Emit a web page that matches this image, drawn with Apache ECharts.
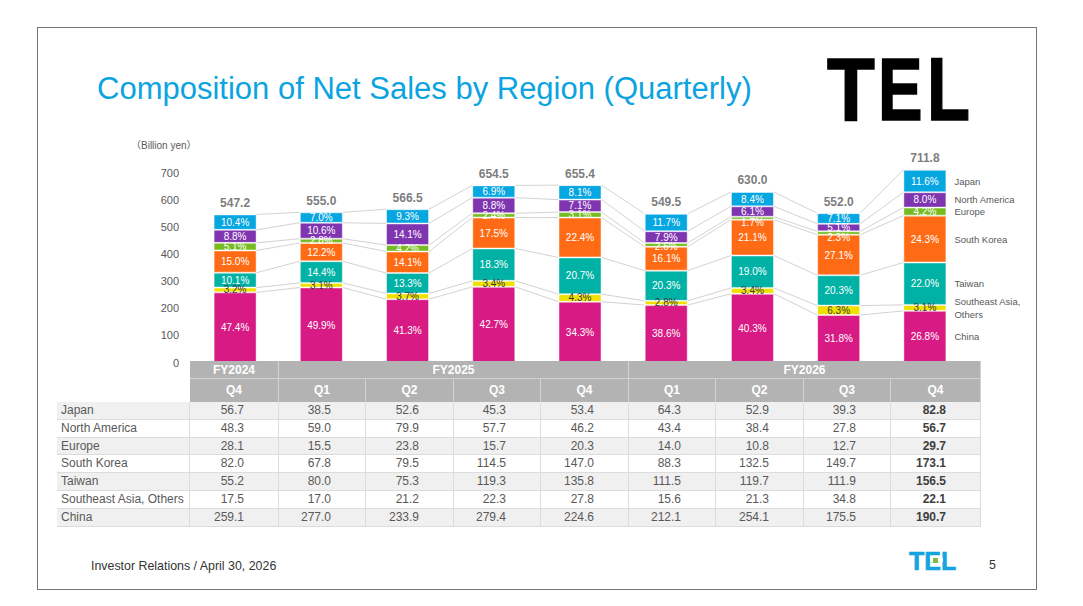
<!DOCTYPE html>
<html>
<head>
<meta charset="utf-8">
<title>Composition of Net Sales by Region (Quarterly)</title>
<script src="https://cdn.jsdelivr.net/npm/echarts@6/dist/echarts.min.js"></script>
<style>
    html, body { margin: 0; padding: 0; background: #fff; }
    #slide { position: relative; width: 1083px; height: 606px; overflow: hidden; font-family: "Liberation Sans", Arial, sans-serif; }
    #chart { position: absolute; left: 0; top: 0; width: 1083px; height: 606px; }
    #frame { position: absolute; left: 37px; top: 27px; width: 998px; height: 561px; border: 1px solid #767676; }
    .abs { position: absolute; white-space: nowrap; }
    #title { left: 97px; top: 73px; font-size: 31px; line-height: 31px; color: #0ca4e0; }
    .logoChar { position: absolute; top: 45px; font-size: 89px; line-height: 89px; font-weight: bold; color: #000; transform-origin: 0 0; -webkit-text-stroke: 1.6px #000; }
    #logoSmall { left: 909px; top: 549px; font-size: 25px; line-height: 25px; font-weight: bold; color: #14a5df; -webkit-text-stroke: 0.6px #14a5df; }
    #footer { left: 91px; top: 560px; font-size: 12.4px; line-height: 12.4px; color: #333; }
    #page { left: 989px; top: 559px; font-size: 12.4px; line-height: 12.4px; color: #333; }
    #tbl .cell { position: absolute; box-sizing: border-box; overflow: hidden; white-space: nowrap; }
</style>
</head>
<body>
<div id="slide">
    <div id="frame"></div>
    <div id="chart"></div>
    <div id="title" class="abs">Composition of Net Sales by Region (Quarterly)</div>
    <div id="logo" class="abs" style="left:0;top:0;">
        <span class="logoChar" style="left:827px;transform:scaleX(0.88);">T</span>
        <span class="logoChar" style="left:878px;transform:scaleX(0.75);">E</span>
        <span class="logoChar" style="left:927px;transform:scaleX(0.79);">L</span>
    </div>
    <div id="logoSmall" class="abs">TEL</div>
    <div id="logoCover" class="abs" style="left:930px;top:558px;width:13px;height:4px;background:#fff;"></div>
    <div id="logoDot" class="abs" style="left:933px;top:558px;width:5px;height:5px;background:#7ac143;"></div>
    <div id="footer" class="abs">Investor Relations / April 30, 2026</div>
    <div id="page" class="abs">5</div>
    <div id="tbl"></div>
</div>
<script>
// 四半期
var categories = ['FY2024 Q4', 'FY2025 Q1', 'FY2025 Q2', 'FY2025 Q3', 'FY2025 Q4', 'FY2026 Q1', 'FY2026 Q2', 'FY2026 Q3', 'FY2026 Q4'];
var fiscalYears = ['FY2024', 'FY2025', 'FY2026'];
var fiscalSpan = [1, 4, 4];
var quarters = ['Q4', 'Q1', 'Q2', 'Q3', 'Q4', 'Q1', 'Q2', 'Q3', 'Q4'];
var totals = [547.2, 555.0, 566.5, 654.5, 655.4, 549.5, 630.0, 552.0, 711.8];
var yTicks = [0, 100, 200, 300, 400, 500, 600, 700];

// 売上高 (Billion yen)
var japan = [56.7, 38.5, 52.6, 45.3, 53.4, 64.3, 52.9, 39.3, 82.8];
var northAmerica = [48.3, 59.0, 79.9, 57.7, 46.2, 43.4, 38.4, 27.8, 56.7];
var europe = [28.1, 15.5, 23.8, 15.7, 20.3, 14.0, 10.8, 12.7, 29.7];
var southKorea = [82.0, 67.8, 79.5, 114.5, 147.0, 88.3, 132.5, 149.7, 173.1];
var taiwan = [55.2, 80.0, 75.3, 119.3, 135.8, 111.5, 119.7, 111.9, 156.5];
var seAsia = [17.5, 17.0, 21.2, 22.3, 27.8, 15.6, 21.3, 34.8, 22.1];
var china = [259.1, 277.0, 233.9, 279.4, 224.6, 212.1, 254.1, 175.5, 190.7];

// 構成比 (%)
var pctJapan = [10.4, 7.0, 9.3, 6.9, 8.1, 11.7, 8.4, 7.1, 11.6];
var pctNorthAmerica = [8.8, 10.6, 14.1, 8.8, 7.1, 7.9, 6.1, 5.1, 8.0];
var pctEurope = [5.1, 2.8, 4.2, 2.4, 3.1, 2.6, 1.7, 2.3, 4.2];
var pctSouthKorea = [15.0, 12.2, 14.1, 17.5, 22.4, 16.1, 21.1, 27.1, 24.3];
var pctTaiwan = [10.1, 14.4, 13.3, 18.3, 20.7, 20.3, 19.0, 20.3, 22.0];
var pctSeAsia = [3.2, 3.1, 3.7, 3.4, 4.3, 2.8, 3.4, 6.3, 3.1];
var pctChina = [47.4, 49.9, 41.3, 42.7, 34.3, 38.6, 40.3, 31.8, 26.8];

var barWidth = 43;
var font = '"Liberation Sans", Arial, sans-serif';
// 細い欧州区分のラベルを少し下げる (px)
var europeNudge = [0, 0, 0, 0, 0, 2, 4, 4, 0];

// 積み上げ順 (下から)
var stackOrder = [
    { name: 'China', chartName: 'China', values: china, pct: pctChina, color: '#d81b84', text: '#fff' },
    { name: 'Southeast Asia, Others', chartName: 'Southeast Asia,\nOthers', values: seAsia, pct: pctSeAsia, color: '#efe000', text: '#3a3a3a' },
    { name: 'Taiwan', chartName: 'Taiwan', values: taiwan, pct: pctTaiwan, color: '#00b1a5', text: '#fff' },
    { name: 'South Korea', chartName: 'South Korea', values: southKorea, pct: pctSouthKorea, color: '#ff6b15', text: '#fff' },
    { name: 'Europe', chartName: 'Europe', values: europe, pct: pctEurope, color: '#76bc21', text: '#fff', nudge: europeNudge },
    { name: 'North America', chartName: 'North America', values: northAmerica, pct: pctNorthAmerica, color: '#7f35b0', text: '#fff' },
    { name: 'Japan', chartName: 'Japan', values: japan, pct: pctJapan, color: '#06a6e1', text: '#fff' }
];
// 表の並び (上から)
var tableOrder = stackOrder.slice().reverse();

/** 累積値 */
function buildStacks() {
    var stacks = [];
    var run = categories.map(function () { return 0; });
    for (var k = 0; k < stackOrder.length; k++) {
        run = run.map(function (v, i) { return v + stackOrder[k].values[i]; });
        stacks.push(run.slice());
    }
    return stacks;
}
var stacks = buildStacks();

/** 棒の間の連結線 */
function renderLinks(params, api) {
    var i = api.value(0);
    var half = barWidth / 2;
    var xa = api.coord([i, 0])[0] + half;
    var xb = api.coord([i + 1, 0])[0] - half;
    var lines = [];
    for (var k = 0; k < stacks.length; k++) {
        lines.push({
            type: 'line',
            shape: { x1: xa, y1: api.coord([i, stacks[k][i]])[1], x2: xb, y2: api.coord([i + 1, stacks[k][i + 1]])[1] },
            style: { stroke: '#c6c6c6', lineWidth: 0.8 }
        });
    }
    return { type: 'group', children: lines };
}

/** 右端の地域名 */
function renderNames(params, api) {
    var i = api.value(0);
    var x = api.coord([i, 0])[0] + barWidth / 2 + 8;
    var texts = [];
    for (var k = 0; k < stackOrder.length; k++) {
        var lo = k === 0 ? 0 : stacks[k - 1][i];
        var mid = (lo + stacks[k][i]) / 2;
        texts.push({
            type: 'text',
            x: x,
            y: api.coord([i, mid])[1],
            style: { text: stackOrder[k].chartName, fill: '#595959', fontSize: 9.5, fontFamily: font, align: 'left', verticalAlign: 'middle', lineHeight: 13 }
        });
    }
    return { type: 'group', children: texts };
}

function buildSeries() {
    var series = [];
    stackOrder.forEach(function (r) {
        series.push({
            name: r.name,
            type: 'bar',
            stack: 'sales',
            barWidth: barWidth,
            clip: false,
            data: r.values.map(function (v, i) {
                var item = { value: v };
                if (r.nudge && r.nudge[i]) item.label = { offset: [0, r.nudge[i]] };
                return item;
            }),
            itemStyle: { color: r.color, borderColor: 'rgba(255,255,255,0.45)', borderWidth: 1 },
            label: {
                show: true,
                position: 'inside',
                color: r.text,
                fontSize: 10,
                fontFamily: font,
                formatter: function (p) { return r.pct[p.dataIndex].toFixed(1) + '%'; }
            },
            z: 3
        });
    });
    series.push({
        name: 'links',
        type: 'custom',
        renderItem: renderLinks,
        data: categories.slice(0, -1).map(function (c, i) { return [i, 0]; }),
        encode: { x: 0, y: 1 },
        clip: false,
        silent: true,
        z: 2
    });
    series.push({
        name: 'names',
        type: 'custom',
        renderItem: renderNames,
        data: [[categories.length - 1, 0]],
        encode: { x: 0, y: 1 },
        clip: false,
        silent: true,
        z: 4
    });
    series.push({
        name: 'total',
        type: 'scatter',
        data: totals,
        symbolSize: 1,
        itemStyle: { color: 'rgba(0,0,0,0)' },
        clip: false,
        silent: true,
        label: {
            show: true,
            position: 'top',
            distance: 5,
            color: '#595959',
            fontWeight: 'bold',
            fontSize: 12,
            fontFamily: font,
            formatter: function (p) { return p.value.toFixed(1); }
        },
        z: 5
    });
    return series;
}

function initChart() {
    var myChart = echarts.init(document.getElementById('chart'), null, { renderer: 'svg' });
    var option = {
        animation: false,
        backgroundColor: 'transparent',
        grid: { left: 192, right: 115, top: 173, bottom: 243.5 },
        xAxis: {
            type: 'category',
            data: categories,
            axisLine: { show: false },
            axisTick: { show: false },
            axisLabel: { show: false }
        },
        yAxis: {
            type: 'value',
            min: yTicks[0],
            max: yTicks[yTicks.length - 1],
            interval: yTicks[1] - yTicks[0],
            axisLine: { show: false },
            axisTick: { show: false },
            splitLine: { show: false },
            axisLabel: { color: '#595959', fontSize: 11, fontFamily: font, margin: 13 }
        },
        graphic: [{
            type: 'text',
            left: 131,
            top: 140,
            style: { text: '（Billion yen）', fill: '#595959', fontSize: 10, fontFamily: '"Liberation Sans", "Noto Sans CJK JP", sans-serif' }
        }],
        series: buildSeries()
    };
    myChart.setOption(option);
}

/** 下の表 */
function cell(left, top, width, height, css, text) {
    var d = document.createElement('div');
    d.className = 'cell';
    d.style.cssText = 'left:' + left + 'px;top:' + top + 'px;width:' + width + 'px;height:' + height + 'px;line-height:' + height + 'px;' + css;
    if (text !== undefined) d.textContent = text;
    document.getElementById('tbl').appendChild(d);
}

function loadTable() {
    var edges = [57, 190, 279, 366, 454, 541, 629, 716, 804, 891, 981];
    var head1 = 361, head1H = 18, head2 = 379, head2H = 23, body = 402, rowH = 17.8;
    var headCss = 'background:#b3b3b3;color:#fff;font-weight:bold;font-size:12px;text-align:center;border-right:1px solid #d2d2d2;';

    var c = 1;
    fiscalYears.forEach(function (fy, f) {
        var l = edges[c], r = edges[c + fiscalSpan[f]];
        cell(l, head1, r - l, head1H, headCss + 'border-bottom:1px solid #d2d2d2;', fy);
        c += fiscalSpan[f];
    });
    quarters.forEach(function (q, i) {
        cell(edges[i + 1], head2, edges[i + 2] - edges[i + 1], head2H, headCss, q);
    });

    tableOrder.forEach(function (r, row) {
        var top = body + row * rowH;
        var bg = row % 2 === 0 ? '#f0f0f0' : '#fff';
        var base = 'background:' + bg + ';border-right:1px solid #dcdcdc;border-bottom:1px solid #dcdcdc;font-size:12px;';
        cell(edges[0], top, edges[1] - edges[0], rowH, base + 'color:#595959;padding-left:4px;text-align:left;', r.name);
        r.values.forEach(function (v, i) {
            var last = i === r.values.length - 1;
            cell(edges[i + 1], top, edges[i + 2] - edges[i + 1], rowH,
                base + 'text-align:right;padding-right:34px;color:' + (last ? '#3f3f3f;font-weight:bold;' : '#595959;'),
                v.toFixed(1));
        });
    });
}

initChart();
loadTable();
</script>
</body>
</html>
